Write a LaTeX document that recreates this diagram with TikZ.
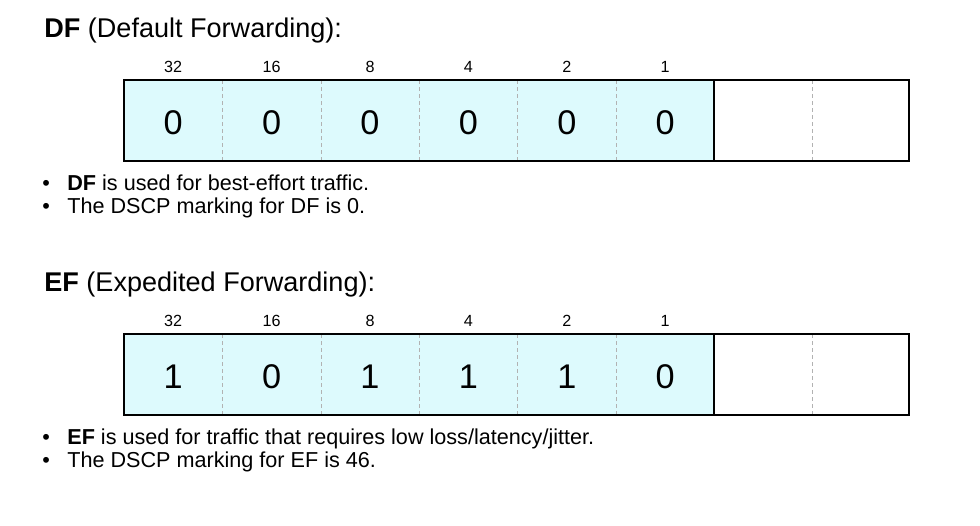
\documentclass[tikz,border=0pt]{standalone}
\usepackage{fontspec}
\setmainfont{Liberation Sans}
\definecolor{cellcyan}{RGB}{221,250,253}
\tikzset{
	title/.style={anchor=base west, inner sep=0pt, font=\fontsize{15.4}{18}\selectfont},
	weight/.style={font=\fontsize{9.2}{11}\selectfont},
	bit/.style={font=\fontsize{19.5}{23}\selectfont},
	note/.style={anchor=base west, inner sep=0pt, font=\fontsize{12.3}{14}\selectfont},
	sep/.style={color=gray!60, line width=0.5pt, dash pattern=on 2.2pt off 1.8pt}
}

\begin{document}
\begin{tikzpicture}[x=0.02cm, y=-0.02cm]
		\useasboundingbox (0,0) rectangle (980,525);
		\foreach \row/\top/\bits/\name/\long/\use/\val in {
			df/80/{0,0,0,0,0,0}/DF/Default/{best-effort traffic}/0,
			ef/334/{1,0,1,1,1,0}/EF/Expedited/{traffic that requires low loss/latency/jitter}/46} {
			\node[title] (\row-title) at (44,\top-43) {\textbf{\name} (\long\ Forwarding):};
			\fill[color=cellcyan] (124,\top) rectangle (714,\top+81);
			\foreach \x in {222,321,419,517,616,812} {
				\draw[sep] (\x,\top) -- (\x,\top+81);
			}
			\draw[line width=1.1pt] (124,\top) rectangle (909,\top+81);
			\draw[line width=1.1pt] (714,\top) -- (714,\top+81);
			\foreach \w [count=\i] in {32,16,8,4,2,1} {
				\node[weight] (\row-w\i) at (124+98.4*\i-49.2,\top-13.5) {\w};
			}
			\foreach \b [count=\i] in \bits {
				\node[bit] (\row-b\i) at (124+98.4*\i-49.2,\top+42.5) {\b};
			}
			\node[note] (\row-dot1) at (42,\top+110) {•};
			\node[note] (\row-use) at (67,\top+110) {\textbf{\name} is used for \use.};
			\node[note] (\row-dot2) at (42,\top+133) {•};
			\node[note] (\row-val) at (67,\top+133) {The DSCP marking for \name\ is \val.};
		}
	\end{tikzpicture}
\end{document}
